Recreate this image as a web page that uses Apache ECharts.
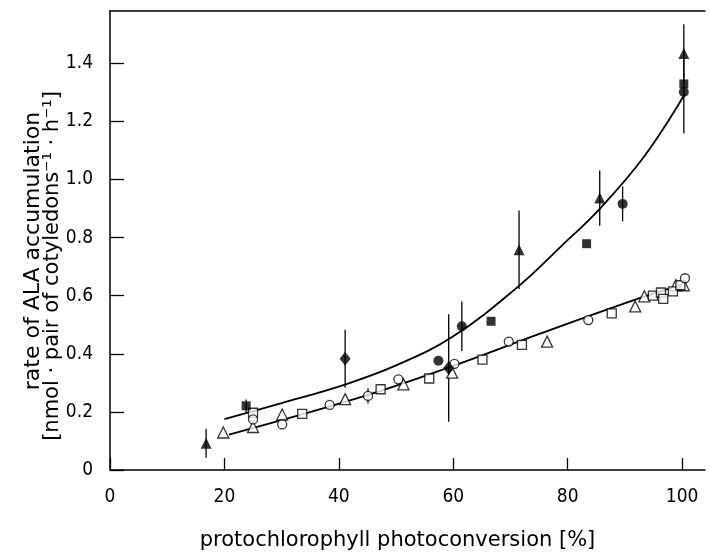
<!DOCTYPE html>
<html>
<head>
<meta charset="utf-8">
<script src="https://cdn.jsdelivr.net/npm/echarts@6/dist/echarts.min.js"></script>
<style>
  html, body { margin: 0; padding: 0; background: #fff; }
  #chart { width: 711px; height: 556px; }
</style>
</head>
<body>
<div id="chart"></div>
<script>
// axis ticks
var xTicks = [0, 20, 40, 60, 80, 100];
var yTicks = [0, 0.2, 0.4, 0.6, 0.8, 1.0, 1.2, 1.4];

// filled symbols (upper curve) with error bars
var fTriX = [16.8, 71.5, 85.6, 100.3];
var fTriY = [0.092, 0.758, 0.936, 1.434];
var fTriErr = [0.05, 0.135, 0.095, 0.10];

var fSqX = [23.8, 66.6, 83.3, 100.3];
var fSqY = [0.221, 0.512, 0.779, 1.329];
var fSqErr = [0.022, 0, 0, 0];

var fCirX = [57.4, 61.5, 89.6, 100.3];
var fCirY = [0.376, 0.495, 0.916, 1.301];
var fCirErr = [0, 0.085, 0.06, 0.142];

var fDiaX = [41.1, 59.2];
var fDiaY = [0.383, 0.351];
var fDiaErr = [0.1, 0.185];

// open symbols (lower line)
var oTriX = [19.8, 25.0, 30.1, 41.1, 51.3, 59.8, 76.4, 91.8, 93.4, 98.9, 100.3];
var oTriY = [0.129, 0.148, 0.191, 0.244, 0.295, 0.335, 0.442, 0.563, 0.598, 0.636, 0.636];

var oSqX = [25.0, 33.6, 47.3, 55.8, 65.1, 72.0, 87.7, 94.9, 96.3, 96.7, 98.4, 99.7];
var oSqY = [0.197, 0.193, 0.278, 0.315, 0.380, 0.431, 0.539, 0.600, 0.611, 0.589, 0.615, 0.636];

var oCirX = [25.0, 30.1, 38.4, 45.1, 50.4, 60.2, 69.7, 83.6, 100.5];
var oCirY = [0.174, 0.157, 0.224, 0.255, 0.312, 0.365, 0.442, 0.516, 0.660];
var oCirErr = [0, 0, 0, 0.026, 0, 0, 0, 0, 0];

// fitted curves
var upperX = [20, 30, 41.2, 50, 60, 71.5, 78.8, 85.6, 93.4, 100.5];
var upperY = [0.175, 0.23, 0.295, 0.36, 0.46, 0.634, 0.769, 0.899, 1.08, 1.295];
var lowerX = [20.8, 43.7, 59.1, 75.3, 92.2, 99.8];
var lowerY = [0.122, 0.25, 0.352, 0.47, 0.589, 0.636];

function pairs(xs, ys) {
  return xs.map(function (x, i) { return [x, ys[i]]; });
}

var errData = [];
function addErr(xs, ys, es) {
  xs.forEach(function (x, i) {
    if (es[i] > 0) errData.push([x, ys[i] - es[i], ys[i] + es[i]]);
  });
}
addErr(fTriX, fTriY, fTriErr);
addErr(fSqX, fSqY, fSqErr);
addErr(fCirX, fCirY, fCirErr);
addErr(fDiaX, fDiaY, fDiaErr);
addErr(oCirX, oCirY, oCirErr);

var font = 'DejaVu Sans';
var numFont = '"DejaVu Sans Condensed", "Liberation Sans Narrow", "DejaVu Sans"';

function filled(data, symbol, size) {
  return {
    type: 'scatter', data: data, symbol: symbol, symbolSize: size, z: 5,
    itemStyle: { color: '#000' }
  };
}
function open(data, symbol, size) {
  return {
    type: 'scatter', data: data, symbol: symbol, symbolSize: size, z: 4,
    itemStyle: { color: '#fff', borderColor: '#000', borderWidth: 1.3 }
  };
}

var chart = echarts.init(document.getElementById('chart'));
var option = {
  animation: false,
  backgroundColor: '#fff',
  grid: { left: 110, right: 6, top: 11, bottom: 79 },
  xAxis: [{
    type: 'value', min: 0, max: 104,
    name: 'protochlorophyll photoconversion [%]',
    nameLocation: 'middle', nameGap: 60,
    nameTextStyle: { fontFamily: font, fontSize: 21, color: '#000', padding: [0, 20, 0, 0] },
    axisLine: { lineStyle: { color: '#000', width: 1.5 } },
    axisTick: { inside: true, length: 12, customValues: xTicks, lineStyle: { color: '#000', width: 1.3 } },
    axisLabel: { customValues: xTicks, margin: 18, fontFamily: numFont, fontSize: 19, color: '#000' },
    splitLine: { show: false }
  }, {
    type: 'value', min: 0, max: 104, position: 'top',
    axisLine: { show: true, onZero: false, lineStyle: { color: '#000', width: 1.5 } },
    axisTick: { show: false }, axisLabel: { show: false }, splitLine: { show: false }
  }],
  yAxis: {
    type: 'value', min: 0, max: 1.58,
    axisLine: { show: true, lineStyle: { color: '#000', width: 1.5 } },
    axisTick: { inside: true, length: 14, customValues: yTicks, lineStyle: { color: '#000', width: 1.3 } },
    axisLabel: {
      customValues: yTicks, margin: 17, fontFamily: numFont, fontSize: 19, color: '#000',
      formatter: function (v) { return v === 0 ? '0' : v.toFixed(1); }
    },
    splitLine: { show: false }
  },
  graphic: [{
    type: 'text', x: 33, y: 251, rotation: Math.PI / 2,
    style: { text: 'rate of ALA accumulation', fontFamily: font, fontSize: 22, fill: '#000', align: 'center', verticalAlign: 'middle' }
  }, {
    type: 'text', x: 53, y: 266, rotation: Math.PI / 2,
    style: { text: '[nmol · pair of cotyledons\u207B\u00B9 · h\u207B\u00B9]', fontFamily: font, fontSize: 21, fill: '#000', align: 'center', verticalAlign: 'middle' }
  }],
  series: [
    {
      type: 'line', data: pairs(upperX, upperY), smooth: 0.4,
      showSymbol: false, lineStyle: { color: '#000', width: 1.8 }, z: 2
    },
    {
      type: 'line', data: pairs(lowerX, lowerY), smooth: 0.4,
      showSymbol: false, lineStyle: { color: '#000', width: 1.8 }, z: 2
    },
    {
      type: 'custom', data: errData, z: 3,
      encode: { x: 0, y: [1, 2] },
      renderItem: function (params, api) {
        var p1 = api.coord([api.value(0), api.value(1)]);
        var p2 = api.coord([api.value(0), api.value(2)]);
        return {
          type: 'line',
          shape: { x1: p1[0], y1: p1[1], x2: p2[0], y2: p2[1] },
          style: { stroke: '#000', lineWidth: 1.3 }
        };
      }
    },
    open(pairs(oTriX, oTriY), 'triangle', 11),
    open(pairs(oSqX, oSqY), 'rect', 9),
    open(pairs(oCirX, oCirY), 'circle', 9),
    filled(pairs(fTriX, fTriY), 'triangle', 11),
    filled(pairs(fSqX, fSqY), 'rect', 9),
    filled(pairs(fCirX, fCirY), 'circle', 10),
    filled(pairs(fDiaX, fDiaY), 'diamond', [11, 14])
  ]
};
chart.setOption(option);
</script>
</body>
</html>
